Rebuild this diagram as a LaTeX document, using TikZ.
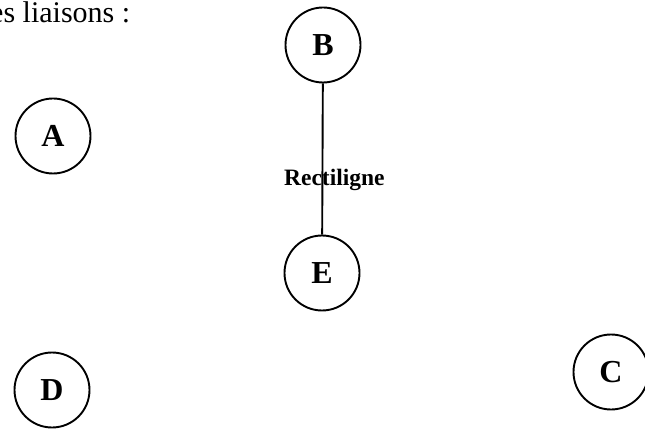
\documentclass[tikz,border=0pt]{standalone}
\usepackage{fontspec}
\setmainfont{Liberation Serif}
\begin{document}
\begin{tikzpicture}[x=1pt,y=-1pt,
  vertex/.style={circle,draw,line width=1.9pt,minimum size=75pt,inner sep=0pt,
    font=\fontsize{32}{32}\selectfont\bfseries},
  link/.style={line width=1.9pt},
  linklabel/.style={font=\fontsize{23.5}{23.5}\selectfont\bfseries,inner sep=0pt}]
  \useasboundingbox (0,0) rectangle (645,430);
  % heading fragment
  \node[anchor=base west,inner sep=0pt,font=\fontsize{30}{30}\selectfont] (head) at (-10,23) {es liaisons :};
  % vertices
  \node[vertex] (B) at (323,45) {B};
  \node[vertex] (A) at (53,136) {A};
  \node[vertex] (E) at (322,273) {E};
  \node[vertex] (D) at (52,390) {D};
  \node[vertex] (C) at (611,372) {C};
  % edge between B and E
  \draw[link] (B) -- (E) node[linklabel,pos=0.64,xshift=12pt] (lab) {Rectiligne};
\end{tikzpicture}
\end{document}
